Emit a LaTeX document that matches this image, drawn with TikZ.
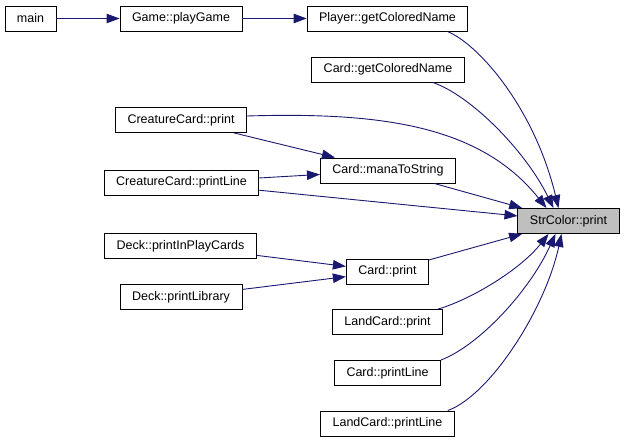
\documentclass[tikz,border=0pt]{standalone}
\usepackage{fontspec}
\setmainfont{Liberation Sans}
\usetikzlibrary{arrows.meta}
\definecolor{edgeblue}{HTML}{191970}
\definecolor{hlgray}{HTML}{BFBFBF}

\begin{document}
\begin{tikzpicture}[x=1pt, y=-1pt,
        fn/.style={rectangle, draw=black, line width=0.9pt, fill=white, minimum height=25pt, inner xsep=12pt, font=\fontsize{12.5}{14}\selectfont},
        hl/.style={fn, fill=hlgray},
        edge/.style={draw=edgeblue, line width=0.9pt, -{Triangle[length=13pt, width=9.5pt]}}]

        \useasboundingbox (0,0) rectangle (625,443);

        % callers, left to right
        \node[fn] (main) at (30.5,18.5) {main};
        \node[fn] (playgame) at (181,18.5) {Game::playGame};
        \node[fn] (creatprint) at (181,120) {CreatureCard::print};
        \node[fn] (creatline) at (181.5,182.5) {CreatureCard::printLine};
        \node[fn] (inplay) at (180.5,246) {Deck::printInPlayCards};
        \node[fn] (library) at (181,297) {Deck::printLibrary};

        \node[fn] (playername) at (387.5,18.5) {Player::getColoredName};
        \node[fn] (cardname) at (388,69.5) {Card::getColoredName};
        \node[fn] (mana) at (388,170.5) {Card::manaToString};
        \node[fn] (cardprint) at (387.5,271.5) {Card::print};
        \node[fn] (landprint) at (387.5,322) {LandCard::print};
        \node[fn] (cardline) at (387.5,373) {Card::printLine};
        \node[fn] (landline) at (387.5,423.5) {LandCard::printLine};

        \node[hl] (strprint) at (568.5,221) {StrColor::print};

        % straight edges
        \draw[edge] (main) -- (playgame);
        \draw[edge] (playgame) -- (playername);
        \draw[edge] (creatprint) -- (mana);
        \draw[edge] (creatline) -- (mana);
        \draw[edge] (creatline) -- (strprint);
        \draw[edge] (mana) -- (strprint);
        \draw[edge] (inplay) -- (cardprint);
        \draw[edge] (library) -- (cardprint);
        \draw[edge] (cardprint) -- (strprint);

        % curved edges into StrColor::print
        \draw[edge] ([xshift=-21pt]playername.south east) .. controls (480,45) and (535,110) .. ([xshift=-10pt]strprint.north);
        \draw[edge] ([xshift=-32pt]cardname.south east) .. controls (470,95) and (525,150) .. ([xshift=-15pt]strprint.north);
        \draw[edge] ([yshift=4pt]creatprint.east) .. controls (380,112) and (480,125) .. ([xshift=-22pt]strprint.north);
        \draw[edge] ([xshift=-5pt]landprint.north east) .. controls (470,300) and (520,270) .. ([xshift=-20pt]strprint.south);
        \draw[edge] (cardline.north east) .. controls (480,345) and (530,290) .. ([xshift=-13pt]strprint.south);
        \draw[edge] ([xshift=-7pt]landline.north east) .. controls (490,395) and (545,310) .. ([xshift=-7pt]strprint.south);
    \end{tikzpicture}
\end{document}
